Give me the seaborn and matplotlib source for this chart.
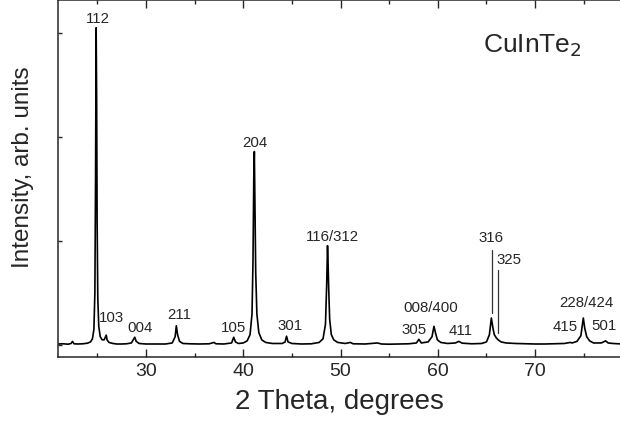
import numpy as np
import pandas as pd
import matplotlib.pyplot as plt
import seaborn as sns

# XRD pattern of CuInTe2 (intensity in units of one y tick)
two_theta = [21.0, 21.5, 22.0, 22.3, 22.45, 22.6, 23.0, 23.5, 24.0, 24.3, 24.5, 24.65,
             24.75, 24.82, 24.88, 24.93, 24.98, 25.05, 25.15, 25.3, 25.5, 25.7, 25.85,
             25.92, 26.0, 26.2, 26.6, 27.0, 27.5, 28.0, 28.5, 28.75, 28.85, 29.0, 29.3,
             30.0, 31.0, 32.0, 32.7, 33.0, 33.12, 33.25, 33.45, 33.8, 34.5, 35.5, 36.5,
             37.0, 37.2, 38.0, 38.8, 39.02, 39.2, 39.5, 40.0, 40.4, 40.7, 40.9, 41.0,
             41.08, 41.14, 41.2, 41.28, 41.4, 41.6, 41.9, 42.3, 43.0, 44.0, 44.3, 44.45,
             44.6, 45.0, 46.0, 47.0, 47.8, 48.2, 48.45, 48.58, 48.66, 48.72, 48.78, 48.88,
             49.05, 49.3, 49.7, 50.5, 51.0, 51.3, 52.5, 53.8, 54.2, 55.0, 56.0, 57.0,
             57.8, 58.05, 58.3, 59.0, 59.4, 59.6, 59.75, 59.95, 60.3, 61.0, 61.8, 62.15,
             62.5, 63.5, 64.5, 65.0, 65.3, 65.5, 65.65, 65.8, 66.0, 66.2, 66.5, 67.0,
             68.0, 69.0, 70.0, 71.0, 72.0, 73.0, 73.6, 73.8, 74.3, 74.7, 74.95, 75.1,
             75.3, 75.6, 76.0, 76.8, 77.25, 77.5, 78.0, 78.5, 79.0, 80.0]
intensity = [0.010, 0.012, 0.008, 0.015, 0.035, 0.012, 0.010, 0.012, 0.018, 0.030, 0.060, 0.150,
             0.500, 1.600, 3.050, 2.400, 1.200, 0.450, 0.180, 0.080, 0.050, 0.050, 0.080,
             0.095, 0.050, 0.025, 0.015, 0.010, 0.010, 0.012, 0.020, 0.060, 0.075, 0.035, 0.015,
             0.010, 0.010, 0.010, 0.020, 0.080, 0.185, 0.100, 0.035, 0.015, 0.012, 0.010, 0.012,
             0.025, 0.012, 0.010, 0.020, 0.075, 0.030, 0.015, 0.020, 0.040, 0.100, 0.300, 0.800,
             1.600, 1.860, 1.400, 0.700, 0.300, 0.120, 0.050, 0.025, 0.015, 0.015, 0.030, 0.085,
             0.030, 0.015, 0.010, 0.012, 0.025, 0.060, 0.200, 0.600, 0.955, 0.780, 0.550, 0.250,
             0.100, 0.050, 0.025, 0.015, 0.025, 0.012, 0.010, 0.020, 0.010, 0.008, 0.010, 0.012,
             0.020, 0.055, 0.020, 0.030, 0.080, 0.180, 0.120, 0.050, 0.025, 0.015, 0.020, 0.035,
             0.018, 0.012, 0.015, 0.030, 0.100, 0.260, 0.170, 0.100, 0.070, 0.050, 0.030, 0.020,
             0.015, 0.012, 0.010, 0.010, 0.012, 0.015, 0.025, 0.020, 0.035, 0.090, 0.260, 0.160,
             0.080, 0.040, 0.020, 0.020, 0.040, 0.020, 0.015, 0.012, 0.010, 0.010]

# Miller index labels and where they sit (2theta, intensity)
hkl = ['112', '103', '004', '211', '105', '204', '301', '116/312', '305', '008/400',
       '411', '316', '325', '415', '228/424', '501']
hkl_x = [25.1, 26.5, 29.4, 33.4, 38.95, 41.2, 44.8, 49.2, 57.55, 59.3,
         62.3, 65.43, 67.35, 73.13, 75.3, 77.1]
hkl_y = [3.13, 0.256, 0.16, 0.29, 0.16, 1.94, 0.18, 1.04, 0.145, 0.36,
         0.135, 1.03, 0.82, 0.175, 0.40, 0.18]

# marker lines for 316 and 325
mark_x = [65.54, 66.15]
mark_lo = [0.31, 0.115]
mark_hi = [0.91, 0.72]

df = pd.DataFrame({'two_theta': two_theta, 'intensity': intensity})

sns.set_style('ticks')
plt.rcParams['font.family'] = ['Liberation Sans', 'DejaVu Sans']

fig = plt.figure(figsize=(6.2, 4.22), dpi=100)
ax = fig.add_axes([58 / 620, 65 / 422, 572.5 / 620, 357 / 422])

sns.lineplot(data=df, x='two_theta', y='intensity', sort=False, estimator=None,
             color='black', lw=1.2, ax=ax)

for x, lo, hi in zip(mark_x, mark_lo, mark_hi):
    ax.plot([x, x], [lo, hi], color='#333333', lw=0.9)

for t, x, y in zip(hkl, hkl_x, hkl_y):
    ax.text(x, y, t, ha='center', va='center', fontsize=10.8)

ax.text(69.7, 2.88, 'CuInTe$_2$', ha='center', va='center', fontsize=19)

ax.set_xlim(20.96, 79.8)
ax.set_ylim(-0.115, 3.317)
ax.set_xticks([30, 40, 50, 60, 70])
ax.set_xticks([25, 35, 45, 55, 65, 75], minor=True)
ax.set_yticks([0, 1, 2, 3])
ax.set_yticklabels([])
ax.tick_params(axis='x', which='major', direction='in', top=True, length=5.5, width=1,
               labelsize=14, pad=4)
ax.tick_params(axis='x', which='minor', direction='in', top=True, length=3, width=1)
ax.tick_params(axis='y', direction='in', length=3, width=1)
for s in ax.spines.values():
    s.set_linewidth(1.1)

ax.set_xlabel('2 Theta, degrees', fontsize=20)
ax.set_ylabel('Intensity, arb. units', fontsize=17.5)
ax.xaxis.set_label_coords((339 - 58) / 572.5, -0.09)
ax.yaxis.set_label_coords(-0.042, (357 - 167) / 357)

fig.savefig('out.png', dpi=100)
